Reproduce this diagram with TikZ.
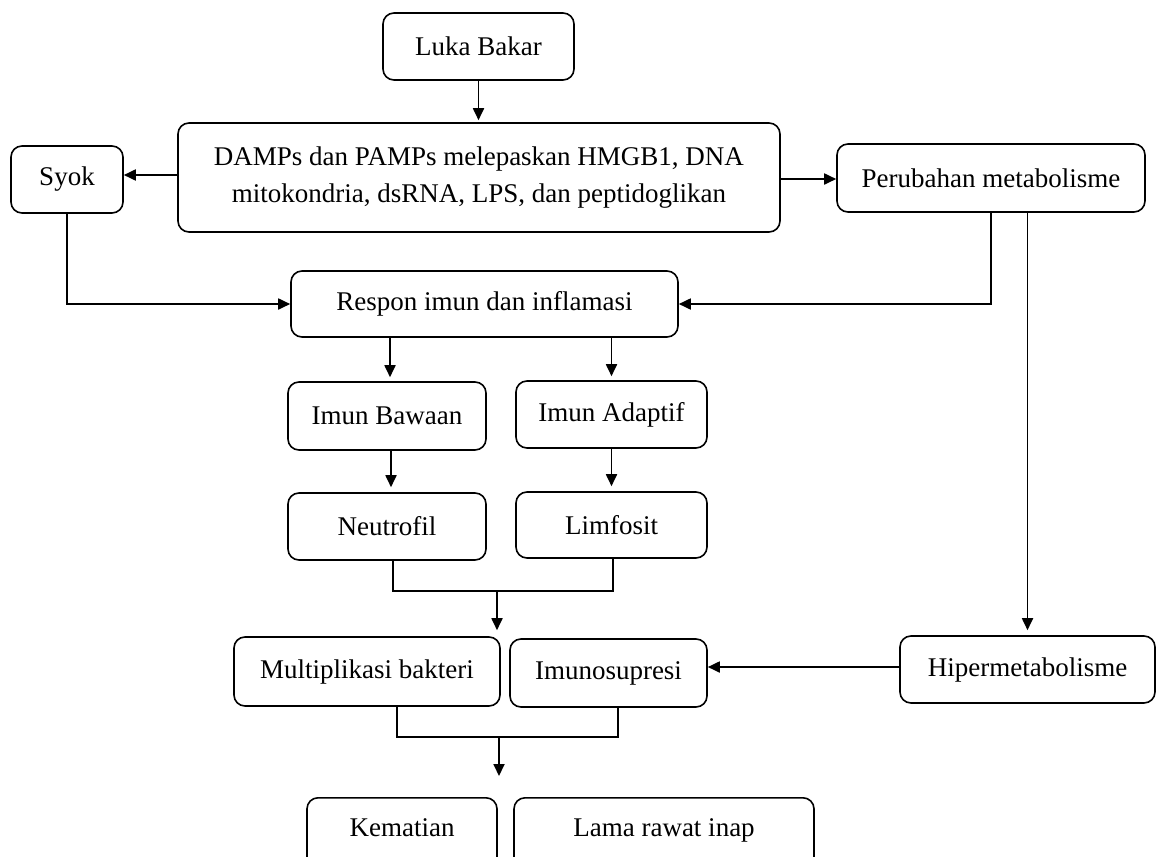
\documentclass[tikz,border=0pt]{standalone}
\usepackage{fontspec}
\setmainfont{Liberation Serif}
\usetikzlibrary{arrows.meta}
\begin{document}
\begin{tikzpicture}[x=1pt,y=-1pt,
  box/.style={draw, line width=1.6pt, rounded corners=11pt, inner sep=0pt,
    align=center, font=\fontsize{27}{37}\selectfont},
  arr/.style={line width=1.8pt, -{Triangle[length=12pt,width=11pt]}},
  link/.style={line width=1.8pt}]
\useasboundingbox (0,0) rectangle (1157,857);
\clip (0,0) rectangle (1157,857);

% boxes
\node[box, minimum width=191pt, minimum height=67pt] (luka) at (478.5,46.5) {Luka Bakar};
\node[box, minimum width=602pt, minimum height=109pt] (damps) at (479,177.5)
  {DAMPs dan PAMPs melepaskan HMGB1, DNA\\ mitokondria, dsRNA, LPS, dan peptidoglikan};
\node[box, minimum width=112pt, minimum height=67pt] (syok) at (67,179.5) {Syok};
\node[box, minimum width=308pt, minimum height=68pt] (perub) at (991,178) {Perubahan metabolisme};
\node[box, minimum width=387pt, minimum height=66pt] (respon) at (484.5,304) {Respon imun dan inflamasi};
\node[box, minimum width=198pt, minimum height=68pt] (bawaan) at (387,416) {Imun Bawaan};
\node[box, minimum width=191pt, minimum height=67pt] (adaptif) at (611.5,414.5) {Imun Adaptif};
\node[box, minimum width=198pt, minimum height=67pt] (neutro) at (387,526.5) {Neutrofil};
\node[box, minimum width=191pt, minimum height=66pt] (limfo) at (611.5,525) {Limfosit};
\node[box, minimum width=266pt, minimum height=69pt] (multi) at (367,671.5) {Multiplikasi bakteri};
\node[box, minimum width=197pt, minimum height=68pt] (imuno) at (608.5,673) {Imunosupresi};
\node[box, minimum width=255pt, minimum height=67pt] (hiper) at (1027.5,669.5) {Hipermetabolisme};
\node[box, minimum width=190pt, minimum height=100pt, anchor=north,
  text height=39pt, text depth=61pt] (kemat) at (402,797) {Kematian};
\node[box, minimum width=300pt, minimum height=100pt, anchor=north,
  text height=39pt, text depth=61pt] (lama) at (664,797) {Lama rawat inap};

% join points of the merging lines
\coordinate (j1) at (497,591);
\coordinate (j2) at (499,737);

% connectors
\draw[arr, shorten >=2pt] (luka.south) -- (luka.south |- damps.north);
\draw[arr] (damps.west |- 0,175) -- (syok.east |- 0,175);
\draw[arr] (damps.east |- 0,179) -- (perub.west |- 0,179);
\draw[arr] (syok.south) |- (respon.west);
\draw[arr] (perub.south) |- (respon.east);
\draw[arr, shorten >=5pt] (perub.south -| hiper.north) -- (hiper.north);
\draw[arr, shorten >=4pt] ([xshift=3pt]respon.south -| bawaan.north) -- ([xshift=3pt]bawaan.north);
\draw[arr, shorten >=4pt] (respon.south -| adaptif.north) -- (adaptif.north);
\draw[arr, shorten >=5pt] ([xshift=4pt]bawaan.south) -- ([xshift=4pt]neutro.north);
\draw[arr, shorten >=5pt] (adaptif.south) -- (limfo.north);
\draw[link] ([xshift=6pt]neutro.south) |- (j1) -| ([xshift=1.5pt]limfo.south);
\draw[arr, shorten >=6pt] (j1) -- (j1 |- multi.north);
\draw[arr] (hiper.west |- 0,667) -- (imuno.east |- 0,667);
\draw[link] ([xshift=30pt]multi.south) |- (j2) -| ([xshift=9.5pt]imuno.south);
\draw[arr, shorten >=21pt] (j2) -- (j2 |- kemat.north);
\end{tikzpicture}
\end{document}
